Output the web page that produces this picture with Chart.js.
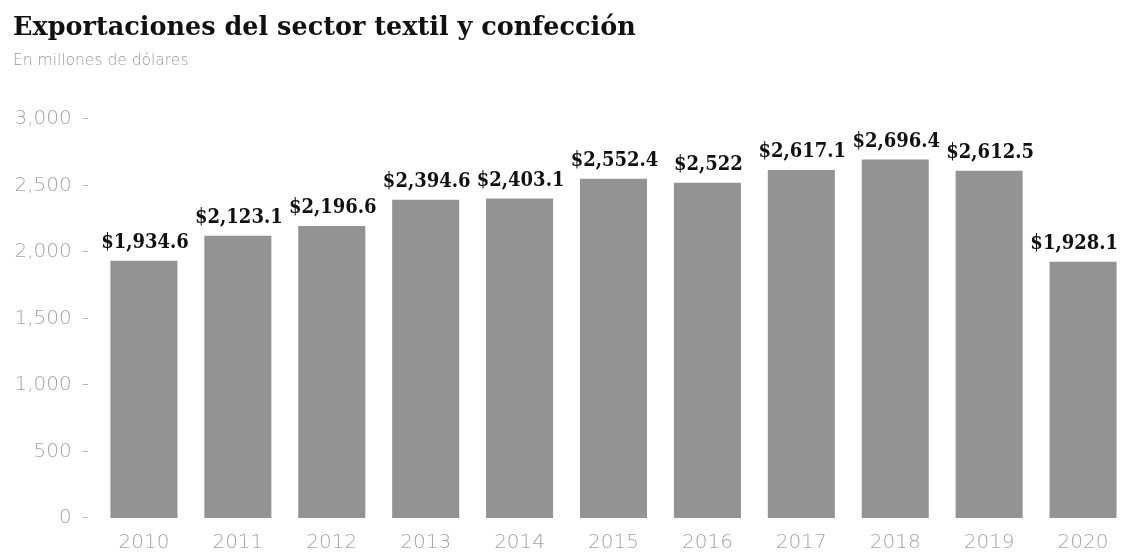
<!DOCTYPE html>
<html>
<head>
<meta charset="utf-8">
<script src="https://cdn.jsdelivr.net/npm/chart.js@4/dist/chart.umd.min.js"></script>
<style>
  html, body { margin: 0; padding: 0; background: #fff; overflow: hidden; }
  #wrap { width: 1121px; height: 554px; overflow: hidden; }
  canvas { display: block; }
</style>
</head>
<body>
<div id="wrap"><canvas id="chart" width="1130" height="554"></canvas></div>
<script>
const years = ['2010', '2011', '2012', '2013', '2014', '2015', '2016', '2017', '2018', '2019', '2020'];
const exportsMillions = [1934.6, 2123.1, 2196.6, 2394.6, 2403.1, 2552.4, 2522, 2617.1, 2696.4, 2612.5, 1928.1];
const yTicks = [0, 500, 1000, 1500, 2000, 2500, 3000];

const fmtValue = v => '$' + v.toLocaleString('en-US', { maximumFractionDigits: 1 });
const fmtTick = v => v.toLocaleString('en-US') + '\u2002-';

// Value labels above each bar, kept inside the visible page width
const VISIBLE_RIGHT = 1118;
const barLabels = {
  id: 'barLabels',
  afterDatasetsDraw(chart) {
    const { ctx } = chart;
    const meta = chart.getDatasetMeta(0);
    ctx.save();
    ctx.font = 'bold 20px "DejaVu Serif Condensed", "DejaVu Serif"';
    ctx.fillStyle = '#111';
    ctx.textAlign = 'center';
    ctx.textBaseline = 'alphabetic';
    meta.data.forEach((bar, i) => {
      const text = fmtValue(exportsMillions[i]);
      const half = ctx.measureText(text).width / 2;
      const x = Math.min(bar.x + 1, VISIBLE_RIGHT - half);
      ctx.fillText(text, x, bar.y - 13);
    });
    ctx.restore();
  }
};

new Chart(document.getElementById('chart'), {
  type: 'bar',
  data: {
    labels: years,
    datasets: [{
      data: exportsMillions,
      backgroundColor: '#939393',
      borderWidth: 0,
      categoryPercentage: 1,
      barPercentage: 0.714
    }]
  },
  options: {
    responsive: false,
    devicePixelRatio: 1,
    animation: false,
    layout: { padding: { left: 13, right: 0, top: 9, bottom: 0 } },
    plugins: {
      legend: { display: false },
      tooltip: { enabled: false },
      title: {
        display: true,
        text: 'Exportaciones del sector textil y confección',
        align: 'start',
        color: '#111',
        font: { family: '"DejaVu Serif"', size: 25.5, weight: 'bold', lineHeight: 1.2 },
        padding: { top: 4, bottom: 8 }
      },
      subtitle: {
        display: true,
        text: 'En millones de dólares',
        align: 'start',
        color: '#9a9a9a',
        font: { family: '"DejaVu Sans"', size: 15.5, weight: 200, lineHeight: 1.2 },
        padding: { top: 0, bottom: 49 }
      }
    },
    scales: {
      x: {
        grid: { display: false, drawTicks: false },
        border: { display: false },
        ticks: {
          color: '#a4a4a4',
          font: { family: '"DejaVu Sans"', size: 20, weight: 200 },
          padding: 13,
          maxRotation: 0
        },
        afterFit(scale) { scale.height = 36; }
      },
      y: {
        min: 0,
        max: 3000,
        afterBuildTicks(scale) { scale.ticks = yTicks.map(v => ({ value: v })); },
        grid: { display: false, drawTicks: false },
        border: { display: false },
        ticks: {
          color: '#a4a4a4',
          font: { family: '"DejaVu Sans"', size: 20, weight: 200 },
          padding: 8,
          callback: v => fmtTick(v)
        },
        afterFit(scale) { scale.width = 84; }
      }
    }
  },
  plugins: [barLabels]
});
</script>
</body>
</html>
